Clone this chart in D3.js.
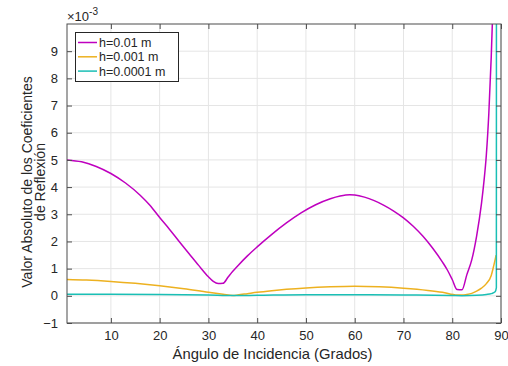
<!DOCTYPE html>
<html>
<head>
<meta charset="utf-8">
<script src="https://cdn.jsdelivr.net/npm/d3@7"></script>
<style>
  body { margin: 0; background: #fff; }
  text { font-family: "Liberation Sans", Arial, sans-serif; fill: #262626; }
</style>
</head>
<body>
<script>
// angle (deg), value (x1e-3)
let magenta = [[1,5.0],[4,4.93],[7,4.76],[10,4.5],[13,4.15],[16,3.7],[18,3.33],[20,2.88],[22,2.45],
  [24,2.0],[26,1.56],[28,1.12],[30,0.7],[31,0.53],[32,0.45],[33,0.46],[34,0.68],[35,0.9],[36,1.1],
  [38,1.47],[40,1.8],[43,2.26],[46,2.68],[49,3.05],[52,3.35],[55,3.57],[57,3.67],[59,3.72],[60,3.71],
  [62,3.63],[64,3.5],[66,3.33],[68,3.12],[70,2.87],[72,2.56],[74,2.19],[76,1.75],[78,1.24],[79,0.95],
  [80,0.6],[81,0.23],[82,0.22],[83,0.78],[84,1.32],[85,2.2],[86,3.4],[86.5,4.2],[87,5.2],[87.5,6.7],
  [88,8.8],[88.5,11.5]];
let orange = [[1,0.6],[5,0.58],[10,0.53],[15,0.46],[20,0.37],[25,0.26],[30,0.13],[33,0.06],[35,0.01],
  [36,0.03],[38,0.08],[40,0.13],[43,0.19],[46,0.24],[50,0.29],[55,0.33],[60,0.35],[65,0.33],[70,0.28],
  [75,0.2],[78,0.13],[81,0.03],[82,0.03],[83,0.05],[84,0.09],[85,0.17],[86,0.28],[87,0.45],[88,0.75],
  [88.5,1.1],[89,1.5]];
let cyan = [[1,0.06],[10,0.06],[20,0.05],[30,0.03],[35,0.01],[40,0.02],[50,0.04],[60,0.04],[70,0.03],
  [80,0.01],[82,0.005],[85,0.02],[87,0.05],[88,0.08],[88.8,0.15],[89.05,0.3],[89.1,40]];
let seriesNames = ["h=0.01 m","h=0.001 m","h=0.0001 m"];
let colors = ["#bf00bf","#edb120","#1abfb5"];
let xTicks = [10,20,30,40,50,60,70,80,90];
let yTicks = [-1,0,1,2,3,4,5,6,7,8,9];

let pLeft = 67, pRight = 501, pTop = 24, pBottom = 323;

let svg = d3.select("body").append("svg").attr("width", 508).attr("height", 366);

let x = d3.scaleLinear().domain([1, 90]).range([pLeft, pRight]);
let y = d3.scaleLinear().domain([-1, 10]).range([pBottom, pTop]);

svg.append("clipPath").attr("id", "clip")
  .append("rect").attr("x", pLeft).attr("y", pTop).attr("width", pRight-pLeft).attr("height", pBottom-pTop);

// grid
svg.selectAll("line.gx").data(xTicks).enter().append("line")
  .attr("x1", d => x(d)).attr("x2", d => x(d)).attr("y1", pTop).attr("y2", pBottom)
  .attr("stroke", "#e5e5e5").attr("stroke-width", 1);
svg.selectAll("line.gy").data(yTicks).enter().append("line")
  .attr("y1", d => y(d)).attr("y2", d => y(d)).attr("x1", pLeft).attr("x2", pRight)
  .attr("stroke", "#e5e5e5").attr("stroke-width", 1);

// lines
let line = d3.line().x(d => x(d[0])).y(d => y(d[1])).curve(d3.curveMonotoneX);
let g = svg.append("g").attr("clip-path", "url(#clip)");
[magenta, orange, cyan].forEach(function(s, i) {
  g.append("path").datum(s).attr("d", line)
    .attr("fill", "none").attr("stroke", colors[i]).attr("stroke-width", 1.5);
});

// axes, box
let axisColor = "#4d4d4d";
svg.append("g").attr("transform", "translate(0," + pBottom + ")")
  .call(d3.axisBottom(x).tickValues(xTicks).tickSizeInner(-5).tickSizeOuter(0).tickPadding(8));
svg.append("g").attr("transform", "translate(0," + pTop + ")")
  .call(d3.axisTop(x).tickValues(xTicks).tickSizeInner(-5).tickSizeOuter(0).tickFormat(""));
svg.append("g").attr("transform", "translate(" + pLeft + ",0)")
  .call(d3.axisLeft(y).tickValues(yTicks).tickSizeInner(-5).tickSizeOuter(0).tickPadding(9));
svg.append("g").attr("transform", "translate(" + pRight + ",0)")
  .call(d3.axisRight(y).tickValues(yTicks).tickSizeInner(-5).tickSizeOuter(0).tickFormat(""));
svg.selectAll(".domain").remove();
svg.selectAll(".tick line").attr("stroke", axisColor);
svg.selectAll(".tick text").style("font-size", "13px").attr("fill", "#262626");
svg.append("rect").attr("x", pLeft).attr("y", pTop).attr("width", pRight-pLeft).attr("height", pBottom-pTop)
  .attr("fill", "none").attr("stroke", axisColor).attr("stroke-width", 1);

// exponent
let ex = svg.append("text").attr("x", 67).attr("y", 21).style("font-size", "13px");
ex.append("tspan").text("\u00d710");
ex.append("tspan").attr("dy", -6).style("font-size", "10px").text("-3");

// labels
svg.append("text").attr("x", 272.5).attr("y", 359).attr("text-anchor", "middle")
  .style("font-size", "14.8px").text("\u00c1ngulo de Incidencia (Grados)");
let yl = svg.append("text").attr("transform", "translate(32,182) rotate(-90)")
  .attr("text-anchor", "middle").style("font-size", "14px");
yl.append("tspan").attr("x", 0).attr("y", 0).text("Valor Absoluto de los Coeficientes");
yl.append("tspan").attr("x", 0).attr("y", 12.5).text("de Reflexi\u00f3n");

// legend
let lg = svg.append("g");
lg.append("rect").attr("x", 75.5).attr("y", 32.5).attr("width", 103).attr("height", 49)
  .attr("fill", "#fff").attr("stroke", "#262626").attr("stroke-width", 1);
seriesNames.forEach(function(n, i) {
  let yy = 42.5 + i*14.3;
  lg.append("line").attr("x1", 78).attr("x2", 97).attr("y1", yy).attr("y2", yy)
    .attr("stroke", colors[i]).attr("stroke-width", 1.5);
  lg.append("text").attr("x", 99).attr("y", yy + 4.5).style("font-size", "12.5px").text(n);
});
</script>
</body>
</html>
